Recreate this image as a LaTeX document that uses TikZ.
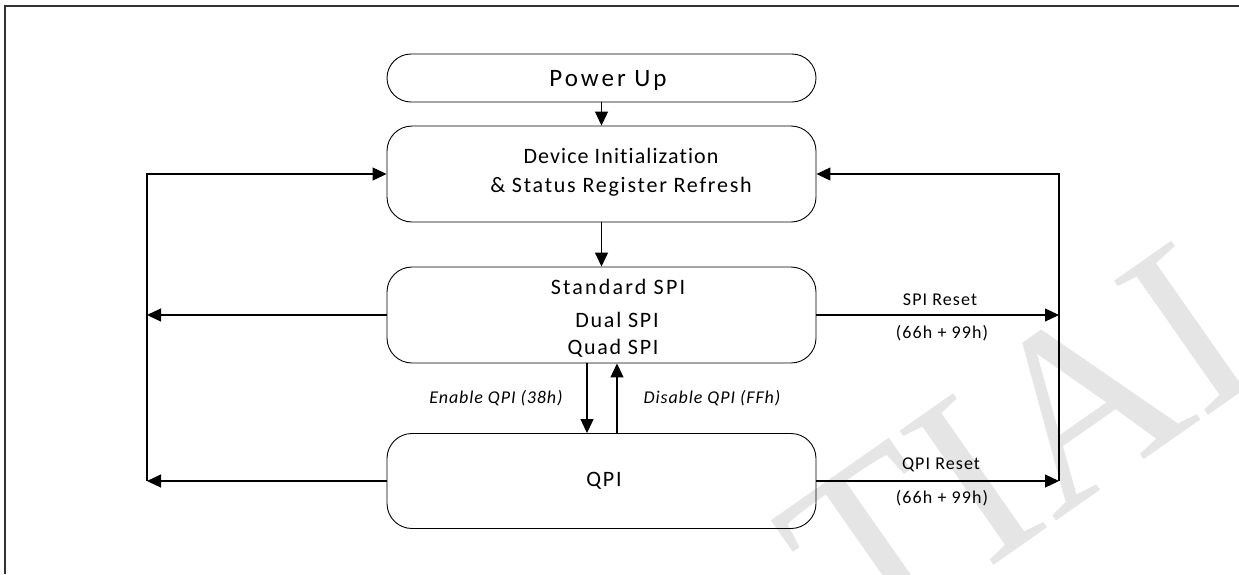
\documentclass[tikz,border=0pt]{standalone}
\usepackage{fontspec}
\setmainfont{Carlito}
\usetikzlibrary{arrows.meta}
\newfontfamily\fdev[LetterSpace=5,Ligatures=NoCommon]{Carlito}
\newfontfamily\fmain[LetterSpace=8,Ligatures=NoCommon]{Carlito}
\newfontfamily\fwide[LetterSpace=10,Ligatures=NoCommon]{Carlito}
\newfontfamily\fpow[LetterSpace=12,Ligatures=NoCommon]{Carlito}
\newfontfamily\fsmall[LetterSpace=6,Ligatures=NoCommon]{Carlito}
\newfontfamily\fital[LetterSpace=5,Ligatures=NoCommon]{Carlito}
\newfontfamily\fwm{Liberation Serif}
\tikzset{
  box/.style={draw=black, line width=0.9pt, rounded corners=25pt, minimum width=429pt, minimum height=96pt, inner sep=0pt},
  pill/.style={box, rounded corners=24pt, minimum height=48pt},
  txt/.style={inner sep=0pt, align=center, font=\fmain\fontsize{22}{29}\selectfont},
  powtxt/.style={inner sep=0pt, font=\fpow\fontsize{25}{28}\selectfont},
  lbl/.style={inner sep=0pt, font=\fsmall\fontsize{18}{20}\selectfont},
  ilbl/.style={inner sep=0pt, font=\fital\itshape\fontsize{18}{20}\selectfont},
  conn/.style={line width=1.1pt, -{Triangle[length=14pt,width=13pt]}},
  frame/.style={line width=1.6pt, draw=black!80},
  wm/.style={inner sep=0pt, text=black!10, rotate=35, font=\fwm\fontsize{250}{250}\selectfont}
}
\begin{document}
\begin{tikzpicture}[x=1pt, y=-1pt]
\useasboundingbox (0,0) rectangle (1239,574);
\fill[white] (0,0) rectangle (1239,574);
% watermark
\begin{scope}
\clip (0,0) rectangle (1239,574);
\node[wm, anchor=base west] (wmark) at (861,658) {TIAL};
\end{scope}
% frame
\draw[frame] (5,574) -- (5,6) -- (1239,6);
% boxes
\node[pill] (pu) at (601.5,78) {};
\node[box] (dev) at (601.5,174) {};
\node[box] (spi) at (601.5,315) {};
\node[box, minimum height=95pt] (qpi) at (601.5,481) {};
% texts
\node[powtxt] (put) at (608,80) {Power Up};
\node[txt] (devt) at (621,172) {{\fdev Device Initialization}\\\& Status Register Refresh};
\node[txt, font=\fwide\fontsize{22}{29}\selectfont] (spit1) at (618,287) {Standard SPI};
\node[txt] (spit2) at (617,320) {Dual SPI};
\node[txt] (spit3) at (613,348) {Quad SPI};
\node[txt] (qpit) at (604,481) {QPI};
% side coordinates
\coordinate (Lx) at (147,0);
\coordinate (Rx) at (1059,0);
% vertical flow
\draw[conn] (pu) -- (dev);
\draw[conn] (dev) -- (spi);
\draw[conn] ([xshift=-14.5pt]spi.south) -- ([xshift=-14.5pt]qpi.north);
\draw[conn] ([xshift=15.5pt]qpi.north) -- ([xshift=15.5pt]spi.south);
\node[ilbl] (en) at (496,398) {Enable QPI (38h)};
\node[ilbl] (dis) at (712,398) {Disable QPI (FFh)};
% left loop
\draw[conn] (spi.west) -- (spi.west -| Lx);
\draw[conn] (qpi.west) -- (qpi.west -| Lx);
\draw[conn] (qpi.west -| Lx) -- (dev.west -| Lx) -- (dev.west);
% right loop
\draw[conn] (spi.east) -- (spi.east -| Rx);
\draw[conn] (qpi.east) -- (qpi.east -| Rx);
\draw[conn] (qpi.east -| Rx) -- (dev.east -| Rx) -- (dev.east);
% reset labels
\node[lbl] (sr1) at (940,300) {SPI Reset};
\node[lbl] (sr2) at (942,333) {(66h + 99h)};
\node[lbl] (qr1) at (941,465) {QPI Reset};
\node[lbl] (qr2) at (942,498) {(66h + 99h)};
\end{tikzpicture}
\end{document}
